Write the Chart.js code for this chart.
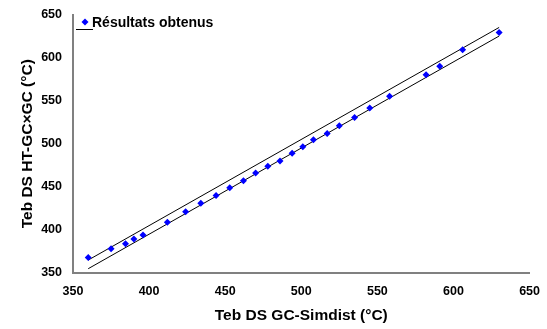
<!DOCTYPE html>
<html>
<head>
<meta charset="utf-8">
<script src="https://cdn.jsdelivr.net/npm/chart.js@4"></script>
<style>
  html, body { margin: 0; padding: 0; background: #fff; }
  #wrap { width: 547px; height: 329px; }
</style>
</head>
<body>
<div id="wrap"><canvas id="chart"></canvas></div>
<script>
// values
const simdist = [360, 375, 384.5, 390, 396, 412, 424, 434, 444, 453, 462, 470, 478, 486, 494, 501, 508, 517, 525, 535, 545, 558, 582, 591, 606, 630];
const htgc = [368, 378, 384, 389.5, 394, 409, 421, 431, 440, 449, 457, 466, 474, 480, 489, 496.5, 504.5, 512, 521, 530.5, 541.5, 555, 580, 590, 609, 629];
const upperLine = [365, 635];   // y = x + 5
const lowerLine = [355, 625];   // y = x - 5
const lineX = [360, 630];
const xTicks = [350, 400, 450, 500, 550, 600, 650];
const yTicks = [350, 400, 450, 500, 550, 600, 650];

const points = simdist.map((x, i) => ({ x: x, y: htgc[i] }));
const up = lineX.map((x, i) => ({ x: x, y: upperLine[i] }));
const low = lineX.map((x, i) => ({ x: x, y: lowerLine[i] }));

const FONT = 'Arial, "Liberation Sans", sans-serif';

// legend drawn inside the plot, top-left
const legendBox = {
  id: 'legendBox',
  afterDraw(chart) {
    const ctx = chart.ctx;
    ctx.save();
    ctx.fillStyle = '#0000ff';
    ctx.beginPath();
    ctx.moveTo(85, 18.5); ctx.lineTo(88.5, 22); ctx.lineTo(85, 25.5); ctx.lineTo(81.5, 22);
    ctx.closePath();
    ctx.fill();
    ctx.strokeStyle = '#000';
    ctx.lineWidth = 1;
    ctx.beginPath();
    ctx.moveTo(76, 29.5); ctx.lineTo(93, 29.5);
    ctx.stroke();
    ctx.fillStyle = '#000';
    ctx.font = 'bold 14px ' + FONT;
    ctx.textBaseline = 'middle';
    ctx.fillText('Résultats obtenus', 92, 23);
    ctx.restore();
  }
};

new Chart(document.getElementById('chart'), {
  type: 'scatter',
  data: {
    datasets: [
      { label: 'Résultats obtenus', data: points, backgroundColor: '#0000ff', borderColor: '#0000ff',
        pointStyle: 'rectRot', pointRadius: 3.5, pointHoverRadius: 3.5, borderWidth: 0 },
      { label: 'up', data: up, showLine: true, borderColor: '#000', borderWidth: 1, pointRadius: 0 },
      { label: 'low', data: low, showLine: true, borderColor: '#000', borderWidth: 1, pointRadius: 0 }
    ]
  },
  plugins: [legendBox],
  options: {
    responsive: true,
    maintainAspectRatio: false,
    animation: false,
    layout: { padding: { top: 13, right: 15, left: 0, bottom: 0 } },
    plugins: { legend: { display: false }, tooltip: { enabled: false } },
    scales: {
      x: {
        type: 'linear', min: 350, max: 650,
        afterBuildTicks: s => { s.ticks = xTicks.map(v => ({ value: v })); },
        afterFit: s => { s.height = 56; },
        grid: { display: false, drawTicks: true, tickLength: 4, tickColor: '#808080' },
        border: { color: '#808080', width: 2 },
        ticks: { color: '#000', font: { family: FONT, size: 12.5, weight: 'bold' }, padding: 7, maxRotation: 0 },
        title: { display: true, text: 'Teb DS GC-Simdist (°C)', color: '#000',
                 font: { family: FONT, size: 15.5, weight: 'bold' }, padding: { top: 1 } }
      },
      y: {
        type: 'linear', min: 350, max: 650,
        afterBuildTicks: s => { s.ticks = yTicks.map(v => ({ value: v })); },
        afterFit: s => { s.width = 73; },
        grid: { display: false, drawTicks: true, tickLength: 4, tickColor: '#808080' },
        border: { color: '#808080', width: 2 },
        ticks: { color: '#000', font: { family: FONT, size: 12.5, weight: 'bold' }, padding: 7 },
        title: { display: true, text: 'Teb DS HT-GC×GC (°C)', color: '#000',
                 font: { family: FONT, size: 15.5, weight: 'bold' }, padding: { top: 18, bottom: 0 } }
      }
    }
  }
});
</script>
</body>
</html>
